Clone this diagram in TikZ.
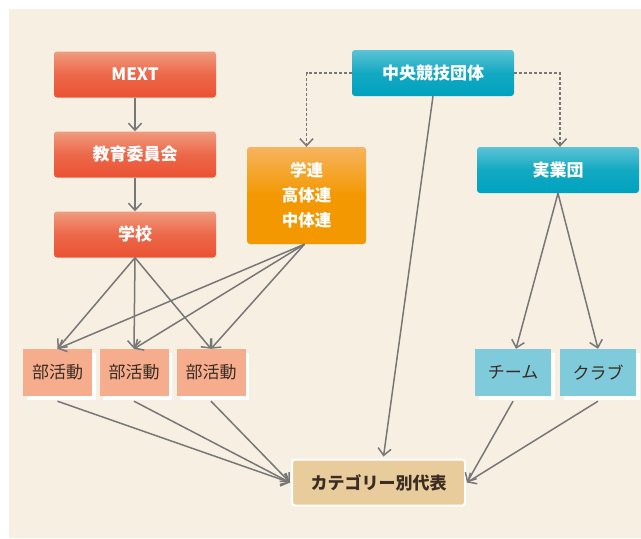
\documentclass[tikz,border=0pt]{standalone}
\usepackage{fontspec}
\setmainfont{Noto Sans CJK JP}
\usetikzlibrary{arrows.meta,shadows}
\definecolor{bgc}{HTML}{F8EFE3}
\definecolor{redtop}{HTML}{F19A7F}
\definecolor{redbot}{HTML}{EA5232}
\definecolor{cyantop}{HTML}{5CC3D5}
\definecolor{cyanbot}{HTML}{00A2BE}
\definecolor{orgtop}{HTML}{F7B45F}
\definecolor{orgbot}{HTML}{F39800}
\definecolor{salmon}{HTML}{F5AD8E}
\definecolor{lblue}{HTML}{80CBDB}
\definecolor{tan}{HTML}{E8CC9C}
\definecolor{darktxt}{HTML}{3A2C22}
\definecolor{linec}{HTML}{777777}
\begin{document}
\begin{tikzpicture}[x=1pt,y=-1pt,
  bigbox/.style={minimum width=162pt,minimum height=46pt,rounded corners=3pt,
    text=white,font=\bfseries\fontsize{17}{20}\selectfont,inner sep=0pt},
  redbox/.style={bigbox,top color=redtop,bottom color=redbot,middle color=redbot!70!redtop},
  cyanbox/.style={bigbox,top color=cyantop,bottom color=cyanbot,middle color=cyanbot!80!cyantop},
  orgbox/.style={bigbox,minimum width=119pt,minimum height=97pt,top color=orgtop,bottom color=orgbot,middle color=orgbot,align=center,
    font=\bfseries\fontsize{16.5}{25}\selectfont},
  smallbox/.style={minimum height=47pt,inner sep=0pt,text=darktxt,
    font=\fontsize{17}{20}\selectfont,
    drop shadow={shadow xshift=3.5pt,shadow yshift=-4pt,fill=white,opacity=1}},
  bkbox/.style={smallbox,fill=salmon,minimum width=69pt},
  tmbox/.style={smallbox,fill=lblue,minimum width=76pt},
  catbox/.style={minimum width=173pt,minimum height=46pt,rounded corners=3pt,fill=tan,
    draw=white,line width=2pt,text=darktxt,font=\bfseries\fontsize{17}{20}\selectfont},
  arr/.style={draw=linec,line width=1.5pt,-{Straight Barb[length=7pt,width=13pt]}},
  darr/.style={arr,dash pattern=on 3pt off 2pt}
]
\useasboundingbox (0,0) rectangle (641,539);
\fill[bgc] (9,9) rectangle (641,538);

\node[redbox] (mext) at (135,74.5) {MEXT};
\node[redbox] (kyoi) at (135,154.5) {教育委員会};
\node[redbox] (gakko) at (135,234.5) {学校};
\node[cyanbox] (chuo) at (433,73) {中央競技団体};
\node[orgbox] (gakuren) at (306.5,195.5) {学連\\高体連\\中体連};
\node[cyanbox] (jitsu) at (558,170) {実業団};

\node[bkbox] (bk1) at (57.5,372.5) {部活動};
\node[bkbox] (bk2) at (134,372.5) {部活動};
\node[bkbox] (bk3) at (211,372.5) {部活動};
\node[tmbox] (team) at (513,372.5) {チーム};
\node[tmbox] (club) at (598,372.5) {クラブ};

\node[catbox] (cat) at (378.5,482.5) {カテゴリー別代表};

\draw[arr] (mext) -- (kyoi);
\draw[arr] (kyoi) -- (gakko);

\foreach \b in {bk1,bk2,bk3}{
  \draw[arr] (gakko.south) -- (\b.north);
  \draw[arr] ([xshift=-2pt]gakuren.south) -- (\b.north);
  \draw[arr] ([yshift=-5pt]\b.south) -- ([xshift=-1pt]cat.west);
}

\draw[darr] (chuo.west) -| (gakuren.north);
\draw[darr] (chuo.east) -| ([xshift=2pt]jitsu.north);
\draw[arr] (chuo.south) -- ([xshift=5pt,yshift=2pt]cat.north);

\draw[arr] (jitsu.south) -- ([xshift=3pt]team.north);
\draw[arr] (jitsu.south) -- (club.north);
\draw[arr] ([yshift=-5pt]team.south) -- ([xshift=1pt]cat.east);
\draw[arr] ([yshift=-5pt]club.south) -- ([xshift=1pt]cat.east);
\end{tikzpicture}
\end{document}
